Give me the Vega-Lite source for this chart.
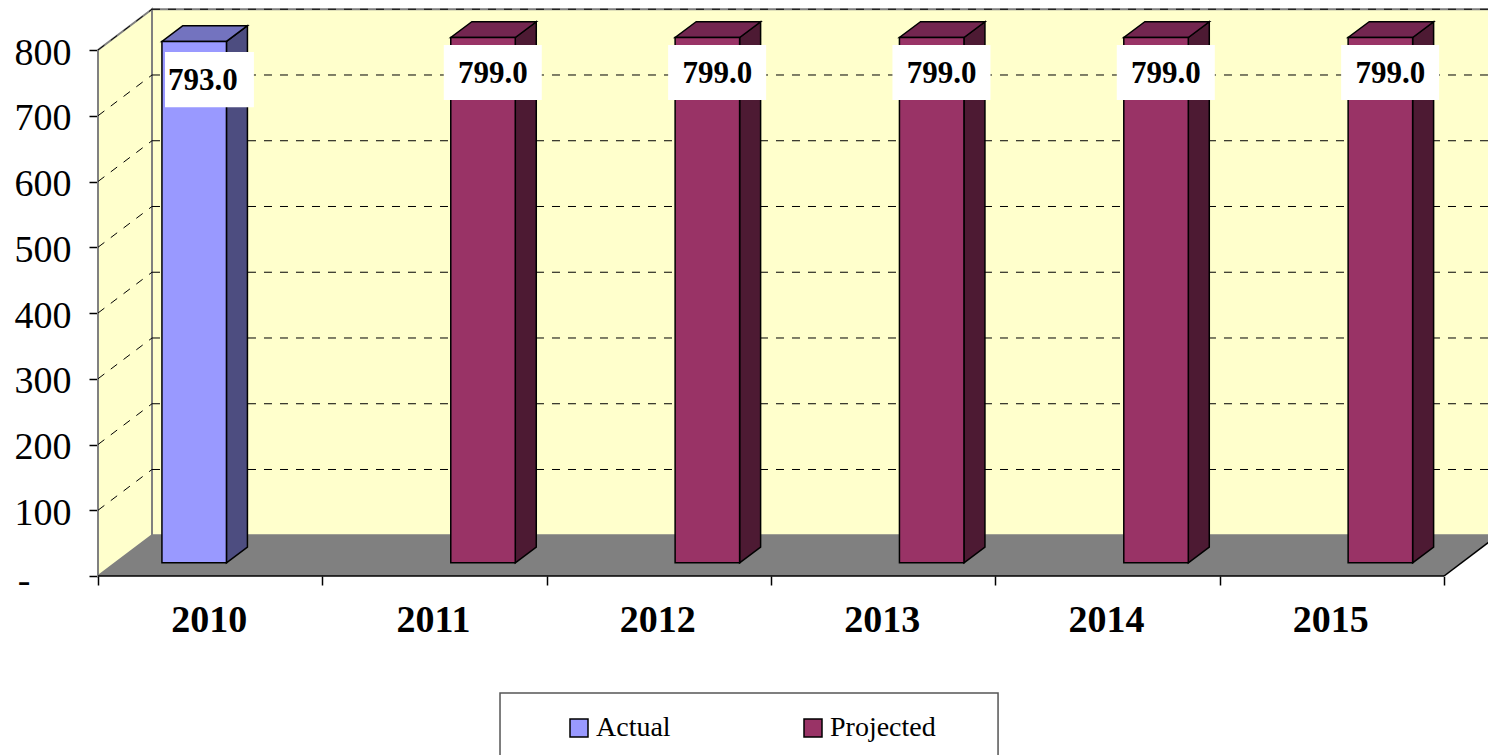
{
  "$schema": "https://vega.github.io/schema/vega-lite/v6.json",
  "width": 1390,
  "height": 576,
  "autosize": {"type": "none"},
  "padding": {"left": 98, "top": 0, "right": 0, "bottom": 179},
  "background": "white",
  "config": {"view": {"stroke": null}, "font": "Liberation Serif"},
  "params": [
    {"name": "wallDx", "value": 0.2407},
    {"name": "wallDy", "value": 62},
    {"name": "barDx", "value": 0.0936},
    {"name": "barDy", "value": 24},
    {"name": "barBase", "value": 20}
  ],
  "datasets": {
    "bars": [
      {"year": 2010, "series": "Actual", "value": 793},
      {"year": 2011, "series": "Projected", "value": 799},
      {"year": 2012, "series": "Projected", "value": 799},
      {"year": 2013, "series": "Projected", "value": 799},
      {"year": 2014, "series": "Projected", "value": 799},
      {"year": 2015, "series": "Projected", "value": 799}
    ],
    "grid": [
      {"value": 100}, {"value": 200}, {"value": 300}, {"value": 400},
      {"value": 500}, {"value": 600}, {"value": 700}, {"value": 800}
    ],
    "edges": [{"first": 0, "last": 6}],
    "legendFrame": [{"left": 1.792, "right": 4.012, "top": -178, "bottom": -300}]
  },
  "layer": [
    {
      "data": {"name": "grid"},
      "transform": [
        {"filter": "datum.value == 800"},
        {"calculate": "wallDx", "as": "xa"},
        {"calculate": "6.4", "as": "xb"},
        {"calculate": "wallDy", "as": "ya"},
        {"calculate": "datum.value + wallDy", "as": "yb"}
      ],
      "mark": {"type": "rect", "fill": "#ffffcc", "stroke": "#808080", "strokeWidth": 2, "clip": true},
      "encoding": {
        "x": {
          "field": "xa", "type": "quantitative",
          "scale": {"domain": [0, 6.196], "nice": false, "zero": false},
          "axis": {
            "values": [0, 0.5, 1, 1.5, 2, 2.5, 3, 3.5, 4, 4.5, 5, 5.5, 6],
            "title": null, "domain": false, "grid": false,
            "labelExpr": "datum.value % 1 == 0 ? '' : '' + (2010 + floor(datum.value))",
            "labelFont": "Liberation Serif", "labelFontSize": 38, "labelFontWeight": "bold",
            "labelColor": "black", "labelPadding": 25, "labelOffset": -1.5, "labelOverlap": false, "labelFlush": false,
            "tickColor": "black", "tickWidth": 1.5,
            "tickSize": {"condition": {"test": "datum.value % 1 == 0", "value": 9}, "value": 0}
          }
        },
        "x2": {"field": "xb"},
        "y": {
          "field": "ya", "type": "quantitative",
          "scale": {"domain": [0, 876.05], "nice": false, "zero": false},
          "axis": {
            "values": [0, 100, 200, 300, 400, 500, 600, 700, 800],
            "title": null, "domain": false, "grid": false,
            "labelExpr": "datum.value == 0 ? '-' : datum.label",
            "labelFont": "Liberation Serif", "labelFontSize": 38,
            "labelColor": "black", "labelOverlap": false, "labelFlush": false,
            "labelOffset": {"condition": {"test": "datum.value == 0", "value": 5}, "value": 3},
            "labelPadding": {"condition": {"test": "datum.value == 0", "value": 59}, "value": 18},
            "tickColor": "black", "tickWidth": 1.5, "tickSize": 9
          }
        },
        "y2": {"field": "yb"}
      }
    },
    {
      "data": {"name": "grid"},
      "transform": [
        {"filter": "datum.value == 800"},
        {"calculate": "[0, 1]", "as": "t"},
        {"flatten": ["t"]},
        {"calculate": "datum.t * wallDx", "as": "xa"},
        {"calculate": "datum.t * wallDy", "as": "ya"},
        {"calculate": "datum.value + datum.t * wallDy", "as": "yb"}
      ],
      "mark": {"type": "area", "fill": "#ffffcc", "stroke": "#808080", "strokeWidth": 2},
      "encoding": {
        "x": {"field": "xa", "type": "quantitative"},
        "y": {"field": "ya", "type": "quantitative"},
        "y2": {"field": "yb"}
      }
    },
    {
      "data": {"name": "edges"},
      "transform": [
        {"calculate": "[0, 1]", "as": "t"},
        {"flatten": ["t"]},
        {"calculate": "datum.first + datum.t * wallDx", "as": "xa"},
        {"calculate": "datum.last + datum.t * wallDx", "as": "xb"},
        {"calculate": "datum.t * wallDy", "as": "ya"}
      ],
      "mark": {"type": "area", "orient": "horizontal", "fill": "#808080", "clip": true},
      "encoding": {
        "y": {"field": "ya", "type": "quantitative"},
        "x": {"field": "xa", "type": "quantitative"},
        "x2": {"field": "xb"}
      }
    },
    {
      "data": {"name": "grid"},
      "transform": [
        {"calculate": "wallDx", "as": "xa"},
        {"calculate": "6.196", "as": "xb"},
        {"calculate": "datum.value + wallDy", "as": "ya"}
      ],
      "mark": {"type": "rule", "stroke": "black", "strokeWidth": 1, "strokeDash": [8, 8]},
      "encoding": {
        "x": {"field": "xa", "type": "quantitative"},
        "x2": {"field": "xb"},
        "y": {"field": "ya", "type": "quantitative"}
      }
    },
    {
      "data": {"name": "grid"},
      "transform": [
        {"calculate": "0", "as": "xa"},
        {"calculate": "wallDx", "as": "xb"},
        {"calculate": "datum.value + wallDy", "as": "yb"}
      ],
      "mark": {"type": "rule", "stroke": "black", "strokeWidth": 1, "strokeDash": [8, 8]},
      "encoding": {
        "x": {"field": "xa", "type": "quantitative"},
        "x2": {"field": "xb"},
        "y": {"field": "value", "type": "quantitative"},
        "y2": {"field": "yb"}
      }
    },
    {
      "data": {"name": "edges"},
      "transform": [{"calculate": "0", "as": "ya"}],
      "mark": {"type": "rule", "stroke": "black", "strokeWidth": 1.5},
      "encoding": {
        "x": {"field": "first", "type": "quantitative"},
        "x2": {"field": "last"},
        "y": {"field": "ya", "type": "quantitative"}
      }
    },
    {
      "data": {"name": "edges"},
      "transform": [
        {"calculate": "0", "as": "ya"},
        {"calculate": "wallDy", "as": "yb"},
        {"calculate": "datum.last + wallDx", "as": "xb"}
      ],
      "mark": {"type": "rule", "stroke": "black", "strokeWidth": 1.5, "clip": true},
      "encoding": {
        "x": {"field": "last", "type": "quantitative"},
        "x2": {"field": "xb"},
        "y": {"field": "ya", "type": "quantitative"},
        "y2": {"field": "yb"}
      }
    },
    {
      "data": {"name": "bars"},
      "transform": [
        {"calculate": "datum.year - 2010 + 0.285 + (datum.series == 'Projected' ? 0.2875 : 0)", "as": "x0"},
        {"calculate": "datum.x0 + 0.2875", "as": "x1"},
        {"calculate": "datum.series == 'Actual'", "as": "isActual"}
      ],
      "layer": [
        {
          "transform": [
            {"calculate": "[0, 1]", "as": "t"},
            {"flatten": ["t"]},
            {"calculate": "datum.x1 + datum.t * barDx", "as": "xa"},
            {"calculate": "barBase + datum.t * barDy", "as": "ya"},
            {"calculate": "barBase + datum.value + datum.t * barDy", "as": "yb"}
          ],
          "mark": {"type": "area", "stroke": "black", "strokeWidth": 1.5},
          "encoding": {
            "detail": {"field": "year"},
            "x": {"field": "xa", "type": "quantitative"},
            "y": {"field": "ya", "type": "quantitative"},
            "y2": {"field": "yb"},
            "fill": {"condition": {"test": "datum.isActual", "value": "#4d4d80"}, "value": "#4d1a33"}
          }
        },
        {
          "transform": [
            {"calculate": "[0, 1]", "as": "t"},
            {"flatten": ["t"]},
            {"calculate": "datum.x0 + datum.t * barDx", "as": "xa"},
            {"calculate": "datum.x1 + datum.t * barDx", "as": "xb"},
            {"calculate": "barBase + datum.value + datum.t * barDy", "as": "ya"}
          ],
          "mark": {"type": "area", "orient": "horizontal", "stroke": "black", "strokeWidth": 1.5},
          "encoding": {
            "detail": {"field": "year"},
            "y": {"field": "ya", "type": "quantitative"},
            "x": {"field": "xa", "type": "quantitative"},
            "x2": {"field": "xb"},
            "fill": {"condition": {"test": "datum.isActual", "value": "#7373bf"}, "value": "#732650"}
          }
        },
        {
          "transform": [
            {"calculate": "barBase", "as": "ya"},
            {"calculate": "barBase + datum.value", "as": "yb"}
          ],
          "mark": {"type": "rect", "stroke": "black", "strokeWidth": 1.5},
          "encoding": {
            "x": {"field": "x0", "type": "quantitative"},
            "x2": {"field": "x1"},
            "y": {"field": "ya", "type": "quantitative"},
            "y2": {"field": "yb"},
            "color": {
              "field": "series", "type": "nominal",
              "scale": {"domain": ["Actual", "Projected"], "range": ["#9999ff", "#993366"]},
              "legend": {
                "orient": "none", "legendX": 467, "legendY": 714, "title": null,
                "columns": 2, "columnPadding": 128, "padding": 0,
                "symbolType": "square", "symbolSize": 324, "labelOffset": 3,
                "symbolStrokeColor": "black", "symbolStrokeWidth": 1.5,
                "labelFont": "Liberation Serif", "labelFontSize": 28, "labelColor": "black", "labelLimit": 300
              }
            }
          }
        },
        {
          "transform": [
            {"calculate": "datum.x0 + (datum.isActual ? 0.0137 : -0.0312)", "as": "boxLeft"},
            {"calculate": "datum.x0 + (datum.isActual ? 0.41 : 0.4057)", "as": "boxRight"},
            {"calculate": "datum.value + (datum.isActual ? 4 : 8.6)", "as": "boxTop"},
            {"calculate": "datum.value + (datum.isActual ? -80 : -75)", "as": "boxBottom"}
          ],
          "mark": {"type": "rect", "fill": "white"},
          "encoding": {
            "x": {"field": "boxLeft", "type": "quantitative"},
            "x2": {"field": "boxRight"},
            "y": {"field": "boxTop", "type": "quantitative"},
            "y2": {"field": "boxBottom"}
          }
        },
        {
          "transform": [
            {"calculate": "datum.x0 + (datum.isActual ? 0.183 : 0.188)", "as": "labelX"},
            {"calculate": "datum.value + (datum.isActual ? -40 : -35.2)", "as": "labelY"}
          ],
          "mark": {"type": "text", "font": "Liberation Serif", "fontSize": 31, "fontWeight": "bold", "fill": "black", "align": "center", "baseline": "middle"},
          "encoding": {
            "x": {"field": "labelX", "type": "quantitative"},
            "y": {"field": "labelY", "type": "quantitative"},
            "text": {"field": "value", "type": "quantitative", "format": ".1f"}
          }
        }
      ]
    },
    {
      "data": {"name": "legendFrame"},
      "mark": {"type": "rect", "fill": null, "fillOpacity": 0, "stroke": "#555555", "strokeWidth": 1.5},
      "encoding": {
        "x": {"field": "left", "type": "quantitative"},
        "x2": {"field": "right"},
        "y": {"field": "top", "type": "quantitative"},
        "y2": {"field": "bottom"}
      }
    }
  ]
}
